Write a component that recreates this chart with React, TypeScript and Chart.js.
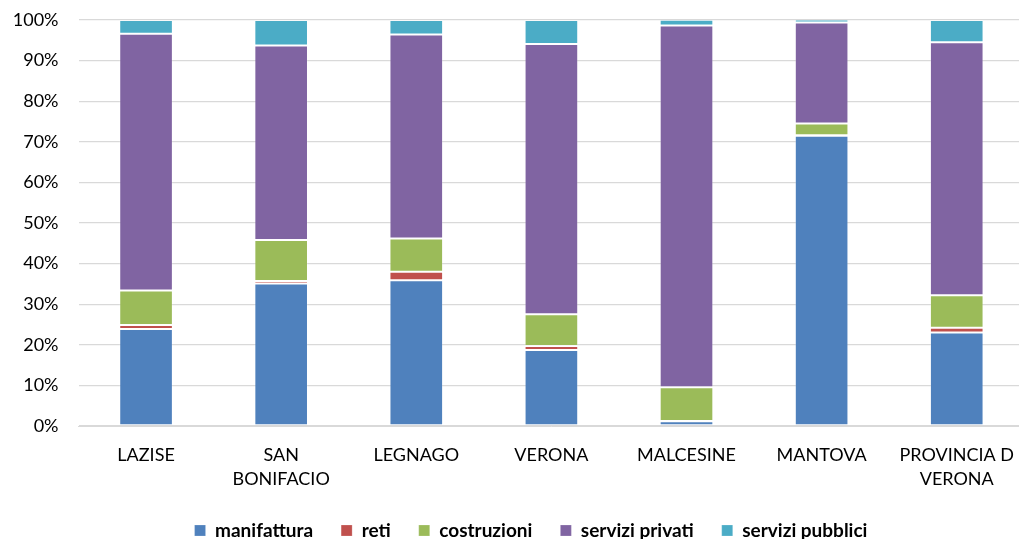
import React, { useEffect, useRef } from "react";
import { Chart, registerables } from "chart.js";

Chart.register(...registerables);

const categories: (string | string[])[] = [
  "LAZISE",
  ["SAN", "BONIFACIO"],
  "LEGNAGO",
  "VERONA",
  "MALCESINE",
  "MANTOVA",
  ["PROVINCIA D", "VERONA"],
];

const manifattura = [23.9, 35.1, 35.9, 18.7, 1.2, 71.5, 23.0];
const reti = [1.0, 0.6, 2.1, 1.0, 0.05, 0.1, 1.2];
const costruzioni = [8.5, 10.1, 8.2, 7.8, 8.3, 2.9, 8.0];
const serviziPrivati = [63.2, 47.9, 50.2, 66.6, 89.1, 24.9, 62.3];
const serviziPubblici = [3.4, 6.3, 3.6, 5.9, 1.4, 0.7, 5.5];

const yTicks = [0, 10, 20, 30, 40, 50, 60, 70, 80, 90, 100];

const FONT = "Lato";

const legendShift = {
  id: "legendShift",
  afterLayout(chart: any) {
    const lg = chart.legend;
    if (lg) {
      lg.left += 15.5;
      lg.right += 15.5;
    }
  },
};

export default function App() {
  const ref = useRef<HTMLCanvasElement | null>(null);

  useEffect(() => {
    if (!ref.current) return;
    const mk = (label: string, data: number[], color: string) => ({
      label,
      data,
      backgroundColor: color,
      borderColor: "rgba(255,255,255,0.2)",
      borderWidth: 1,
      borderSkipped: false as const,
      barPercentage: 0.397,
      categoryPercentage: 1,
    });
    const chart = new Chart(ref.current, {
      type: "bar",
      data: {
        labels: categories,
        datasets: [
          mk("manifattura", manifattura, "#4F81BD"),
          mk("reti", reti, "#C0504D"),
          mk("costruzioni", costruzioni, "#9BBB59"),
          mk("servizi privati", serviziPrivati, "#8064A2"),
          mk("servizi pubblici", serviziPubblici, "#4BACC6"),
        ],
      },
      options: {
        animation: false,
        responsive: false,
        devicePixelRatio: 1,
        layout: { padding: { top: 20, left: 0, right: 0, bottom: 0 } },
        plugins: {
          tooltip: { enabled: false },
          legend: {
            position: "bottom",
            labels: {
              boxWidth: 11,
              boxHeight: 11,
              padding: 28,
              color: "#000",
              font: { family: FONT, size: 19, weight: "bold" },
            },
          },
        },
        scales: {
          x: {
            stacked: true,
            afterFit: (s: any) => {
              s.height = 67;
            },
            grid: { display: false, drawTicks: false },
            border: { display: true, color: "#d9d9d9", width: 1 },
            ticks: {
              color: "#000",
              font: { family: FONT, size: 18, lineHeight: 1.35 },
              padding: 17,
              maxRotation: 0,
              autoSkip: false,
            },
          },
          y: {
            stacked: true,
            min: 0,
            max: 100,
            afterFit: (s: any) => {
              s.width = 78.5;
            },
            afterBuildTicks: (s: any) => {
              s.ticks = yTicks.map((v) => ({ value: v }));
            },
            grid: {
              color: "#d9d9d9",
              lineWidth: 1.3,
              drawTicks: true,
              tickLength: 20,
              tickColor: "rgba(0,0,0,0)",
            },
            border: { display: false },
            ticks: {
              color: "#000",
              font: { family: FONT, size: 18 },
              padding: 0,
              callback: (v: any) => v + "%",
            },
          },
        },
      },
      plugins: [legendShift],
    });
    return () => chart.destroy();
  }, []);

  return (
    <div
      style={{
        position: "fixed",
        left: 0,
        top: 0,
        width: 1019,
        height: 539,
        overflow: "hidden",
        background: "#fff",
      }}
    >
      <canvas ref={ref} width={1031} height={550} style={{ display: "block" }} />
    </div>
  );
}
